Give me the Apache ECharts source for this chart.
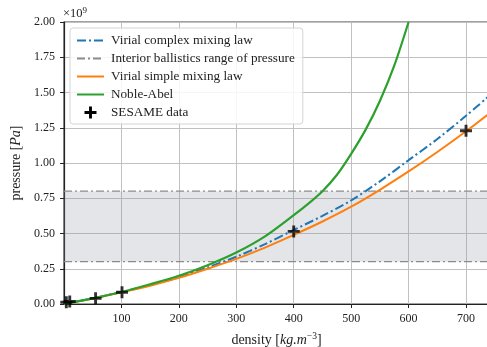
<!DOCTYPE html>
<html><head><meta charset="utf-8">
<script src="https://cdn.jsdelivr.net/npm/echarts@6/dist/echarts.min.js"></script>
<style>html,body{margin:0;padding:0;background:#fff}#c{width:487px;height:347px}</style>
</head><body><div id="c"></div>
<script>
// density [kg/m^3]
const curveDensity = [0, 50, 100, 150, 200, 250, 300, 350, 400, 450, 500, 550, 600, 650, 700, 740];
// pressure in units of 1e9 Pa
const virialComplex = [0, 0.04, 0.085, 0.135, 0.19, 0.26, 0.335, 0.425, 0.525, 0.625, 0.735, 0.87, 1.02, 1.17, 1.335, 1.475];
const virialSimple  = [0, 0.038, 0.083, 0.13, 0.185, 0.25, 0.32, 0.4, 0.49, 0.585, 0.69, 0.81, 0.94, 1.078, 1.225, 1.35];
const nobleDensity = [0, 50, 100, 150, 200, 250, 300, 350, 400, 425, 450, 475, 500, 525, 550, 575, 600];
const nobleAbel    = [0, 0.04, 0.085, 0.14, 0.2, 0.275, 0.365, 0.48, 0.63, 0.71, 0.80, 0.915, 1.065, 1.235, 1.44, 1.69, 2.0];
const sesameDensity = [4, 10, 55, 101, 400, 700];
const sesamePressure = [0.012, 0.018, 0.04, 0.083, 0.515, 1.229];
const rangeLow = 0.3, rangeHigh = 0.8;
const xTickInterval = 100, yTickInterval = 0.25;

const font = '"Liberation Serif", "DejaVu Serif", serif';
const pair = (xs, ys) => xs.map((x, i) => [x, ys[i]]);
const plus = 'path://M3.8,0H6.2V3.8H10V6.2H6.2V10H3.8V6.2H0V3.8H3.8Z';

const chart = echarts.init(document.getElementById('c'), null, {renderer: 'canvas'});
const rangeName = 'Interior ballistics range of pressure';
chart.setOption({
  animation: false,
  grid: {left: 64, right: -2, top: 22, bottom: 43, show: true, borderColor: '#444', borderWidth: 1.2,
    backgroundColor: 'transparent', containLabel: false, outerBoundsMode: 'none'},
  xAxis: {
    type: 'value', min: 0, max: 740, interval: xTickInterval,
    name: '{n|density [}{i|kg.m}{s|−3}{n|]}', nameLocation: 'middle', nameGap: 27,
    nameTextStyle: {rich: {
      n: {fontFamily: font, fontSize: 14, color: '#222'},
      i: {fontFamily: font, fontSize: 14, fontStyle: 'italic', color: '#222'},
      s: {fontFamily: font, fontSize: 9.5, color: '#222', verticalAlign: 'top', padding: [0, 0, 8, 0]}
    }},
    axisLine: {show: true, onZero: false, lineStyle: {color: '#222', width: 1.2}},
    axisTick: {show: true, length: 4, lineStyle: {color: '#222'}},
    axisLabel: {fontFamily: font, fontSize: 12, color: '#222', margin: 9, showMinLabel: false, showMaxLabel: false},
    splitLine: {show: true, lineStyle: {color: '#c0c0c0', width: 1}}
  },
  yAxis: {
    type: 'value', min: 0, max: 2, interval: yTickInterval,
    name: '{n|pressure [}{i|Pa}{n|]}', nameLocation: 'middle', nameGap: 37, nameRotate: 90,
    nameTextStyle: {rich: {
      n: {fontFamily: font, fontSize: 14, color: '#222'},
      i: {fontFamily: font, fontSize: 14, fontStyle: 'italic', color: '#222'}
    }},
    axisLine: {show: true, lineStyle: {color: '#222', width: 1.2}},
    axisTick: {show: true, length: 4, lineStyle: {color: '#222'}},
    axisLabel: {fontFamily: font, fontSize: 12, color: '#222', margin: 9, formatter: v => v.toFixed(2)},
    splitLine: {show: true, lineStyle: {color: '#c0c0c0', width: 1}}
  },
  legend: {
    orient: 'vertical', left: 70, top: 28,
    data: ['Virial complex mixing law', rangeName, 'Virial simple mixing law', 'Noble-Abel',
      {name: 'SESAME data', itemStyle: {opacity: 1}}],
    itemWidth: 27, itemHeight: 12, itemGap: 5,
    itemStyle: {opacity: 0},
    padding: [6, 8, 5, 6],
    backgroundColor: 'rgba(255,255,255,0.85)', borderColor: '#d4d4d4', borderWidth: 1, borderRadius: 3,
    textStyle: {fontFamily: font, fontSize: 13.2, color: '#222', padding: [0, 0, 0, 2], lineHeight: 13}
  },
  graphic: [{
    type: 'text', left: 63, top: 6,
    style: {text: '{a|×10}{b|9}', rich: {
      a: {fontFamily: font, fontSize: 12.5, fill: '#222'},
      b: {fontFamily: font, fontSize: 9, fill: '#222', verticalAlign: 'top', padding: [0, 0, 7, 0]}
    }}
  }],
  series: [
    {
      name: 'Virial complex mixing law', type: 'line', z: 3, symbol: 'none',
      smooth: 0.3,
      data: pair(curveDensity, virialComplex),
      lineStyle: {color: '#1f77b4', width: 2, type: [9, 3, 2, 3]}, itemStyle: {color: '#1f77b4'}
    },
    {
      name: rangeName, type: 'line', z: 2, symbol: 'none',
      data: [[0, rangeHigh], [740, rangeHigh]],
      lineStyle: {color: '#8c8c8c', width: 1.3, type: [8, 3, 2, 3]}, itemStyle: {color: '#8c8c8c'},
      markArea: {silent: true, itemStyle: {color: 'rgba(140,146,160,0.24)'}, data: [[{yAxis: rangeLow}, {yAxis: rangeHigh}]]}
    },
    {
      name: rangeName, type: 'line', z: 2, symbol: 'none',
      data: [[0, rangeLow], [740, rangeLow]],
      lineStyle: {color: '#8c8c8c', width: 1.3, type: [8, 3, 2, 3]}, itemStyle: {color: '#8c8c8c'}
    },
    {
      name: 'Virial simple mixing law', type: 'line', z: 3, symbol: 'none',
      smooth: 0.3,
      data: pair(curveDensity, virialSimple),
      lineStyle: {color: '#ff7f0e', width: 2}, itemStyle: {color: '#ff7f0e'}
    },
    {
      name: 'Noble-Abel', type: 'line', z: 4, symbol: 'none',
      smooth: 0.3,
      data: pair(nobleDensity, nobleAbel),
      lineStyle: {color: '#2ca02c', width: 2.2}, itemStyle: {color: '#2ca02c'}
    },
    {
      name: 'SESAME data', type: 'scatter', z: 5, symbol: plus, symbolSize: 12,
      data: pair(sesameDensity, sesamePressure),
      itemStyle: {color: '#000'}
    }
  ]
});
</script></body></html>
